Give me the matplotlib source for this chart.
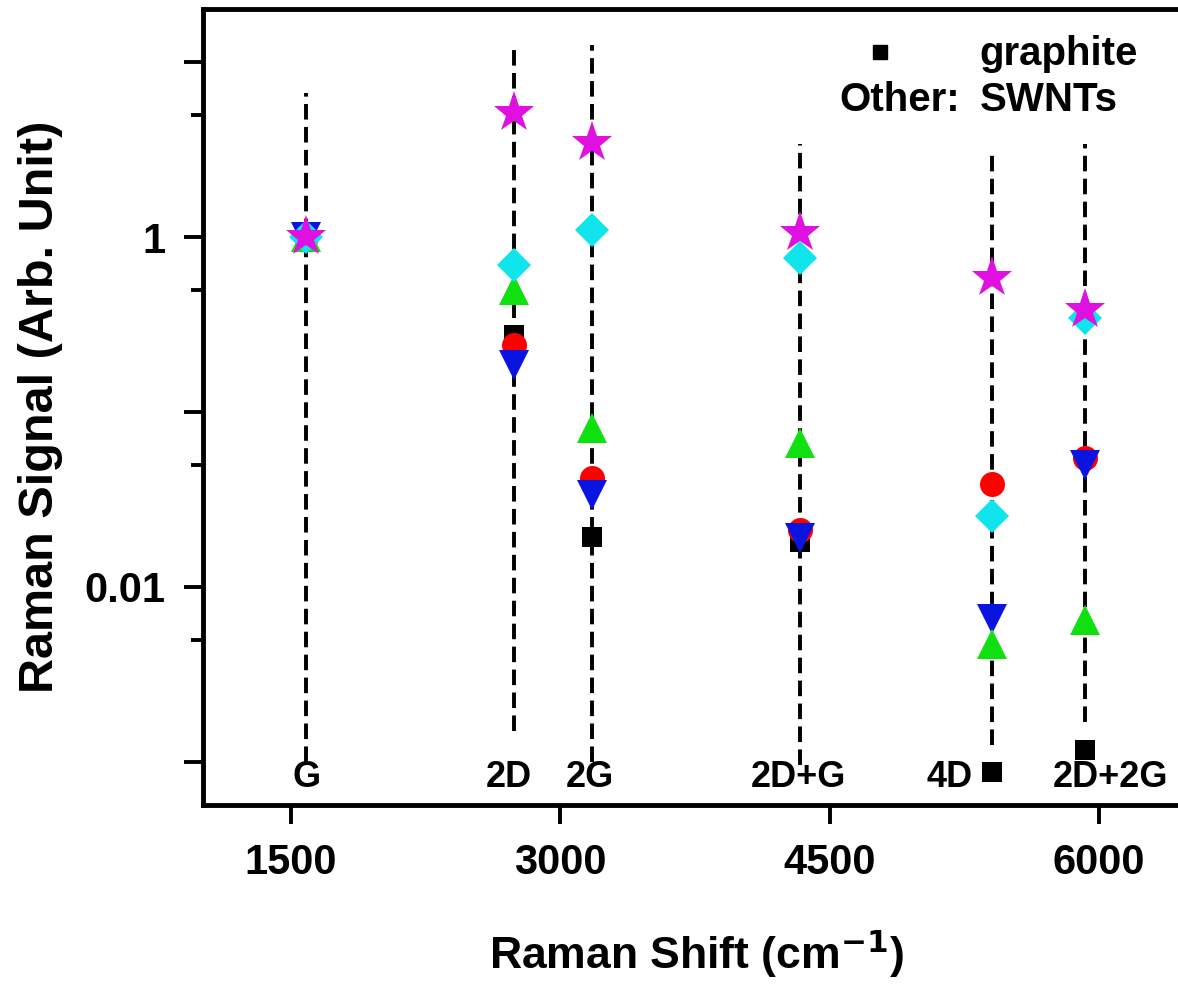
import matplotlib
matplotlib.use("Agg")
import matplotlib.pyplot as plt
from matplotlib.ticker import FixedLocator, FuncFormatter, NullFormatter

plt.rcParams['font.family'] = ['Liberation Sans', 'DejaVu Sans']
plt.rcParams['font.weight'] = 'bold'
plt.rcParams['mathtext.default'] = 'bf'

# Raman peak positions (cm^-1) and names
peak_names = ["G", "2D", "2G", "2D+G", "4D", "2D+2G"]
peak_pos = [1584, 2740, 3176, 4334, 5405, 5918]

# Vertical guide line extents for each peak
line_top = [6.7, 12.5, 12.5, 3.4, 3.2, 3.4]
line_bottom = [1.0e-3, 1.5e-3, 1.0e-3, 9.6e-4, 1.25e-3, 1.7e-3]

# Normalised Raman signal per sample (G band = 1)
graphite = [1.0, 0.275, 0.0193, 0.0181, 8.7e-4, 1.17e-3]
swnt_red = [1.0, 0.241, 0.042, 0.0212, 0.0388, 0.0546]
swnt_blue = [1.0, 0.186, 0.0336, 0.0191, 0.0066, 0.0498]
swnt_green = [1.0, 0.498, 0.081, 0.0665, 0.0047, 0.0065]
swnt_cyan = [1.0, 0.692, 1.10, 0.76, 0.0255, 0.345]
swnt_magenta = [1.0, 5.11, 3.44, 1.05, 0.583, 0.383]

# Label positions under each line
label_x = [1584, 2714, 3165, 4323, 5169, 6060]
label_y = 8.1e-4

x_ticks = [1500, 3000, 4500, 6000]

fig = plt.figure(figsize=(11.78, 9.84), dpi=100)
ax = fig.add_axes([0.1723, 0.1819, 0.838, 0.8089])

for x, top, bot in zip(peak_pos, line_top, line_bottom):
    ax.plot([x, x], [bot, top], color='black', lw=2.8, ls=(0, (4, 1.9)), zorder=1)

series = [
    (graphite, 's', 'black', 15),
    (swnt_red, 'o', '#ff0000', 18),
    (swnt_blue, 'v', '#0a14e0', 21),
    (swnt_green, '^', '#10e010', 21),
    (swnt_cyan, 'D', '#10e4ec', 17),
    (swnt_magenta, '*', '#e010e0', 31),
]
for vals, mk, col, ms in series:
    ax.plot(peak_pos, vals, ls='none', marker=mk, color=col, ms=ms,
            mec=col, mew=0, zorder=3)

for name, x in zip(peak_names, label_x):
    ax.text(x, label_y, name, ha='center', va='center', fontsize=26,
            fontweight='bold', zorder=2)

# Legend text
ax.plot([0.686], [0.946], marker='s', color='black', ms=10, ls='none',
        transform=ax.transAxes, clip_on=False)
ax.text(0.787, 0.944, "graphite", transform=ax.transAxes, ha='left',
        va='center', fontsize=29, fontweight='bold')
ax.text(0.767, 0.886, "Other:", transform=ax.transAxes, ha='right',
        va='center', fontsize=29, fontweight='bold')
ax.text(0.787, 0.886, "SWNTs", transform=ax.transAxes, ha='left',
        va='center', fontsize=29, fontweight='bold')

ax.set_yscale('log')
ax.set_xlim(1010, 6506)
ax.set_ylim(5.67e-4, 20.1)

ax.set_xticks(x_ticks)
ax.set_xticklabels([str(t) for t in x_ticks])
ax.xaxis.set_minor_locator(FixedLocator([]))

ax.yaxis.set_major_locator(FixedLocator([1e-3, 1e-2, 1e-1, 1, 10]))
ax.yaxis.set_minor_locator(FixedLocator([5e-3, 5e-2, 5e-1, 5]))
labels = {1.0: "1", 0.01: "0.01"}
ax.yaxis.set_major_formatter(FuncFormatter(
    lambda v, p: next((s for k, s in labels.items() if abs(v - k) < 1e-9 * max(k, 1e-6)), "")))
ax.yaxis.set_minor_formatter(NullFormatter())

ax.tick_params(axis='both', which='major', direction='out', length=14,
               width=2.8, labelsize=30, pad=13)
ax.tick_params(axis='y', which='minor', direction='out', length=9, width=2.8)
for lab in ax.get_xticklabels() + ax.get_yticklabels():
    lab.set_fontweight('bold')

for side in ['left', 'bottom', 'top']:
    ax.spines[side].set_linewidth(3.5)
ax.spines['right'].set_visible(False)

ax.set_ylabel("Raman Signal (Arb. Unit)", fontsize=35, fontweight='bold')
ax.yaxis.set_label_coords(-0.142, 0.5)
ax.set_xlabel("Raman Shift (cm$^{\\mathbf{-1}}$)", fontsize=32,
              fontweight='bold')
ax.xaxis.set_label_coords(0.5, -0.153)

fig.savefig("out.png", dpi=100)
